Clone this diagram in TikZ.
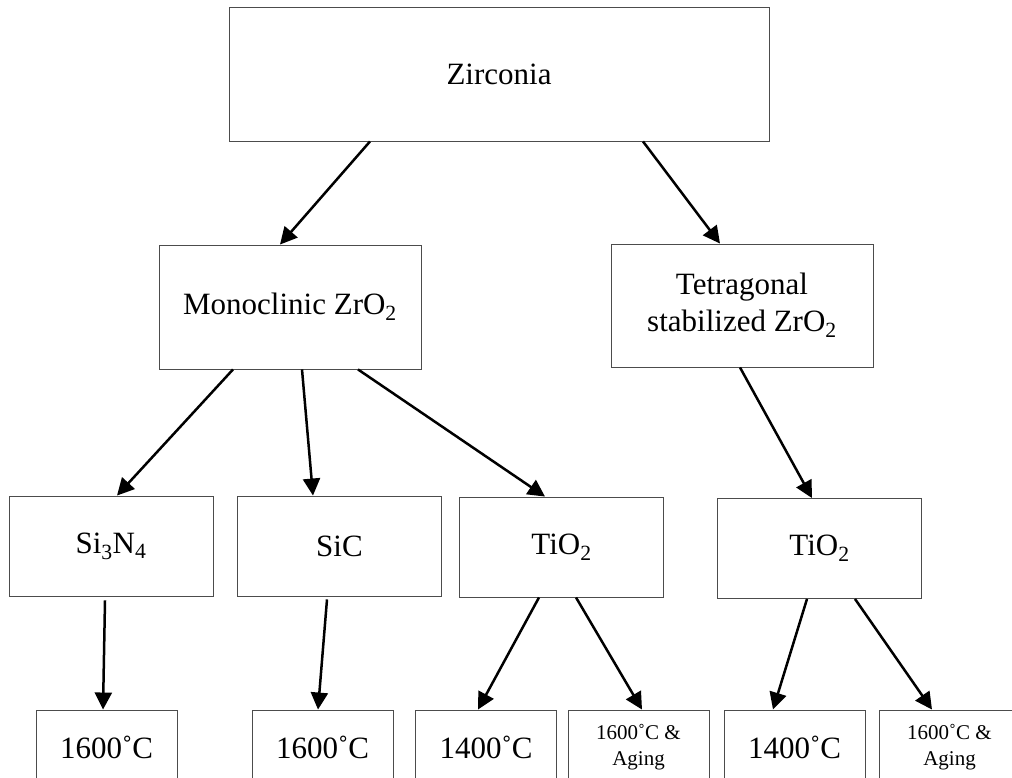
\documentclass[tikz,border=0pt]{standalone}
\usepackage{fontspec}
\setmainfont{Liberation Serif}
\usetikzlibrary{arrows.meta,calc}
\begin{document}
\begin{tikzpicture}[x=1pt,y=-1pt,
  box/.style={draw=black!70, line width=0.9pt, rectangle, inner sep=0pt,
    align=center, font=\fontsize{31}{37}\selectfont},
  mid/.style={box, minimum width=204pt, minimum height=100pt},
  low/.style={box, minimum width=141pt, minimum height=74pt},
  small/.style={font=\fontsize{21}{26}\selectfont},
  arr/.style={line width=2.5pt, -{Triangle[length=17pt,width=17pt]}}]
\useasboundingbox (0,0) rectangle (1012,778);
\clip (0,0) rectangle (1012,778);

% top level
\node[box, minimum width=540pt, minimum height=134pt] (zr) at (499,74) {Zirconia};

% phases
\node[box, minimum width=262pt, minimum height=124pt] (mono) at (290,307)
  {Monoclinic ZrO\textsubscript{2}};
\node[box, minimum width=262pt, minimum height=123pt] (tetra) at (742,305.5)
  {Tetragonal\\stabilized ZrO\textsubscript{2}};

% additives
\node[mid] (si)   at (111,546)   {Si\textsubscript{3}N\textsubscript{4}};
\node[mid] (sic)  at (339.5,546) {SiC};
\node[mid] (tio)  at (561.5,547) {TiO\textsubscript{2}};
\node[mid] (tiot) at (819.5,548.5) {TiO\textsubscript{2}};

% treatments
\node[low] (b1) at (106.5,747) {1600˚C};
\node[low] (b2) at (322.5,747) {1600˚C};
\node[low] (b3) at (486,747)   {1400˚C};
\node[low, small] (b4) at (638.5,747) {1600˚C \&\\Aging};
\node[low] (b5) at (794.5,747) {1400˚C};
\node[low, small] (b6) at (949.5,747) {1600˚C \&\\Aging};

% connectors
\draw[arr] ([xshift=-129pt]zr.south) -- ([xshift=-10pt]mono.north);
\draw[arr] ([xshift=144pt]zr.south) -- ([xshift=-22pt]tetra.north);
\draw[arr] ([xshift=-57pt]mono.south) -- ([xshift=6pt]si.north);
\draw[arr] ([xshift=12pt]mono.south) -- ([xshift=-26.5pt]sic.north);
\draw[arr] ([xshift=68pt]mono.south) -- ([xshift=-16.5pt]tio.north);
\draw[arr] ([xshift=-2pt]tetra.south) -- ([xshift=-7.5pt]tiot.north);
\draw[arr] ([xshift=-6pt,yshift=-4pt]si.south) -- ([xshift=-3.5pt]b1.north);
\draw[arr] ([xshift=-12.5pt,yshift=-3pt]sic.south) -- ([xshift=-4.5pt]b2.north);
\draw[arr] ([xshift=-22.5pt]tio.south) -- ([xshift=-8pt]b3.north);
\draw[arr] ([xshift=14.5pt]tio.south) -- ([xshift=3.5pt]b4.north);
\draw[arr] ([xshift=-12.5pt]tiot.south) -- ([xshift=-21.5pt]b5.north);
\draw[arr] ([xshift=35.5pt]tiot.south) -- ([xshift=-17.5pt]b6.north);
\end{tikzpicture}
\end{document}
